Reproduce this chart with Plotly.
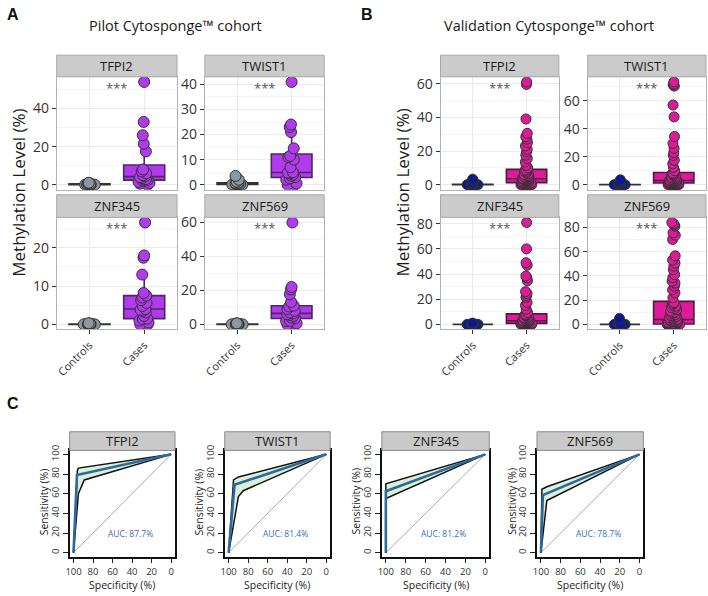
import numpy as np
import plotly.graph_objects as go

# ---------------- data ----------------
categories = ["Controls", "Cases"]
genes = ["TFPI2", "TWIST1", "ZNF345", "ZNF569"]

# Pilot cohort (methylation %)
pilot_controls_TFPI2 = [0, 0, 0, 0, 0, 0, 0, 0, 0.2, 0.3, 0.4, 0.5, 0.6, 0.8, 1.0]
pilot_cases_TFPI2 = [54, 33, 26, 21.5, 17.5, 8, 7, 6, 5, 4.5, 4, 3.5, 3, 2.7, 2.5, 2.2, 1.5, 1, 0.5, 0]
pilot_controls_TWIST1 = [0, 0, 0, 0.1, 0.2, 0.3, 0.3, 0.4, 0.5, 0.6, 0.8, 1.2, 2.0, 3.5]
pilot_cases_TWIST1 = [41, 24, 23, 21, 14.5, 11.5, 11, 10, 7, 4.8, 5, 4.5, 4, 3.5, 3, 2.5, 2, 0.5, 0, 0]
pilot_controls_ZNF345 = [0, 0, 0, 0, 0, 0, 0, 0, 0, 0, 0.1, 0.2, 0.2, 0.3]
pilot_cases_ZNF345 = [26.6, 18, 17.4, 13, 8.2, 7.5, 7, 6.3, 5.6, 4.8, 4, 3.8, 3.5, 3.1, 2.2, 1.5, 1.4, 1, 0.5, 0, 0]
pilot_controls_ZNF569 = [0, 0, 0, 0, 0, 0, 0, 0, 0, 0, 0.2, 0.3, 0.4, 0.5, 0.6]
pilot_cases_ZNF569 = [60, 22, 20.6, 17.7, 13.2, 11, 10.5, 9, 8, 7, 6.5, 6, 5.5, 5, 4, 3.5, 2.1, 2, 0.6, 0, 0]

# Validation cohort (methylation %)
val_controls_TFPI2 = [0, 0, 0, 0, 0, 0, 0, 0, 0, 0, 0, 0, 0.3, 0.5, 1.0, 2.5, 3.3]
val_cases_TFPI2 = [61, 59.5, 39, 30.5, 28.5, 27, 25, 23, 21, 19.5, 17.5, 15.5, 13.5, 11.5, 10,
                   8.8, 8.2, 7.6, 7, 6.5, 6, 5.6, 5.2, 4.8, 4.5, 4.2, 4, 3.8, 3.7, 3.6,
                   3.4, 3.2, 3, 2.8, 2.6, 2.4, 2.2, 2, 1.9, 1.8, 1.7, 1.6, 1.5, 1.4, 1.3,
                   1.1, 0.9, 0.7, 0.5, 0.3, 0.1, 0, 0, 0, 0, 0, 0, 0, 0, 0]
val_controls_TWIST1 = [0, 0, 0, 0, 0, 0, 0, 0, 0, 0, 0, 0, 0.5, 1.0, 2.0, 3.5]
val_cases_TWIST1 = [73.5, 72, 71.5, 70.5, 57, 48.5, 34.5, 29.5, 26, 23, 21, 17.5, 15, 12.5, 10,
                    8.3, 7.8, 7.2, 6.6, 6, 5.5, 5, 4.6, 4.2, 3.9, 3.6, 3.4, 3.3, 3.2, 3.1,
                    2.9, 2.7, 2.5, 2.3, 2.1, 2, 1.9, 1.8, 1.7, 1.6, 1.5, 1.45, 1.4, 1.35, 1.3,
                    1.1, 0.9, 0.7, 0.5, 0.3, 0.1, 0, 0, 0, 0, 0, 0, 0, 0, 0]
val_controls_ZNF345 = [0, 0, 0, 0, 0, 0, 0, 0, 0, 0, 0, 0, 0.3, 0.6, 1.0]
val_cases_ZNF345 = [81, 60, 49, 47, 38.5, 37, 34.5, 26, 24.5, 23, 21.5, 17.5, 15, 12, 9.5,
                    8, 7.5, 7, 6.5, 6, 5.5, 5, 4.6, 4.2, 4, 3.7, 3.4, 3.2, 3.05, 3,
                    2.8, 2.6, 2.4, 2.2, 2, 1.8, 1.6, 1.5, 1.4, 1.3, 1.2, 1.1, 1, 0.9, 0.85,
                    0.75, 0.6, 0.4, 0.2, 0.1, 0, 0, 0, 0, 0, 0, 0, 0, 0, 0]
val_controls_ZNF569 = [0, 0, 0, 0, 0, 0, 0, 0, 0, 0, 0, 0, 0.3, 4.8]
val_cases_ZNF569 = [84, 83, 82, 81, 75.5, 73.5, 70, 56.5, 53, 50.5, 48, 45, 41, 38.5, 35.5, 34, 31.5, 28.5, 26, 22,
                    18, 17, 16, 15, 14, 13, 12, 11, 10, 9.5, 9, 8, 7.5, 7, 6.5, 6, 5.5, 5, 4.6, 4.2,
                    3.8, 3.5, 3.2, 3, 2.8, 2.5, 2.2, 2, 1.8, 1.6, 1.4, 1.2, 1, 0.9, 0.8, 0.7, 0.6, 0.5, 0.45, 0.4,
                    0.3, 0.2, 0.1, 0, 0, 0, 0, 0, 0, 0, 0, 0, 0, 0, 0, 0, 0, 0, 0, 0]

# ROC curves (specificity %, sensitivity %)
roc_TFPI2_spec = [100, 96.5, 0]
roc_TFPI2_sens = [0, 79, 100]
roc_TFPI2_hi_spec = [100, 96, 95, 0]
roc_TFPI2_hi_sens = [0, 84, 86, 100]
roc_TFPI2_lo_spec = [100, 95, 89, 0]
roc_TFPI2_lo_sens = [0, 60, 74, 100]

roc_TWIST1_spec = [100, 94, 0]
roc_TWIST1_sens = [0, 69, 100]
roc_TWIST1_hi_spec = [100, 95, 90, 0]
roc_TWIST1_hi_sens = [0, 74, 77, 100]
roc_TWIST1_lo_spec = [100, 90, 85, 0]
roc_TWIST1_lo_sens = [0, 57, 63, 100]

roc_ZNF345_spec = [100, 100, 0]
roc_ZNF345_sens = [0, 62.5, 100]
roc_ZNF345_hi_spec = [100, 100, 0]
roc_ZNF345_hi_sens = [0, 70, 100]
roc_ZNF345_lo_spec = [100, 100, 0]
roc_ZNF345_lo_sens = [0, 55, 100]

roc_ZNF569_spec = [100, 98, 0]
roc_ZNF569_sens = [0, 58.5, 100]
roc_ZNF569_hi_spec = [100, 99, 94, 0]
roc_ZNF569_hi_sens = [0, 64.5, 67, 100]
roc_ZNF569_lo_spec = [100, 94, 0]
roc_ZNF569_lo_sens = [0, 53, 100]

auc_labels = ["AUC: 87.7%", "AUC: 81.4%", "AUC: 81.2%", "AUC: 78.7%"]
roc_ticks = [0, 20, 40, 60, 80, 100]

# ---------------- figure ----------------
W, H = 708, 596
FONT = "Open Sans"
BOLD = "Liberation Sans"


def fx(px):
    return px / W


def fy(py):
    return 1 - py / H


def box_stats(vals):
    a = np.asarray(vals, dtype=float)
    q1, med, q3 = np.percentile(a, [25, 50, 75])
    iqr = q3 - q1
    lo_lim, hi_lim = q1 - 1.5 * iqr, q3 + 1.5 * iqr
    inside = a[(a >= lo_lim) & (a <= hi_lim)]
    out = a[(a < lo_lim) | (a > hi_lim)]
    return q1, med, q3, inside.min(), inside.max(), out.tolist()


INVISIBLE_BOX = dict(fillcolor="rgba(0,0,0,0)", line=dict(color="rgba(0,0,0,0)", width=0))

fig = go.Figure()
layout = dict(width=W, height=H, autosize=False, margin=dict(l=0, r=0, t=0, b=0),
              paper_bgcolor="white", plot_bgcolor="white", showlegend=False,
              boxmode="overlay", font=dict(family=FONT, color="#222"))
shapes = []
annotations = []
ax_count = [0]


def new_axes():
    ax_count[0] += 1
    i = ax_count[0]
    s = "" if i == 1 else str(i)
    return "x" + s, "y" + s, "xaxis" + s, "yaxis" + s


def strip(x0, x1, y0, y1, text, fill, border, size):
    shapes.append(dict(type="rect", xref="paper", yref="paper", x0=fx(x0), x1=fx(x1),
                       y0=fy(y1), y1=fy(y0), fillcolor=fill, line=dict(color=border, width=1), layer="above"))
    annotations.append(dict(xref="paper", yref="paper", x=fx((x0 + x1) / 2), y=fy((y0 + y1) / 2),
                            text=text, showarrow=False, xanchor="center", yanchor="middle",
                            font=dict(size=size, color="#1a1a1a", family=FONT)))


pilot = dict(ctrl=[pilot_controls_TFPI2, pilot_controls_TWIST1, pilot_controls_ZNF345, pilot_controls_ZNF569],
             case=[pilot_cases_TFPI2, pilot_cases_TWIST1, pilot_cases_ZNF345, pilot_cases_ZNF569],
             ctrl_col="#8E979E", case_col="#B23AEE", ctrl_line="#333333", case_line="#4a2a5c",
             xs=[(53, 174), (202, 322), (53, 174), (202, 322)],
             dt=[20, 10, 10, 20], size=11)
valid = dict(ctrl=[val_controls_TFPI2, val_controls_TWIST1, val_controls_ZNF345, val_controls_ZNF569],
             case=[val_cases_TFPI2, val_cases_TWIST1, val_cases_ZNF345, val_cases_ZNF569],
             ctrl_col="#0B1A8C", case_col="#DE1A9B", ctrl_line="#333333", case_line="#4d1a3c",
             xs=[(439, 558), (587, 706), (439, 558), (587, 706)],
             dt=[20, 20, 20, 20], size=10)
rows = [(50, 72, 187, False), (50, 72, 187, False), (192, 215, 329, True), (192, 215, 329, True)]

for coh in (pilot, valid):
    for k, gene in enumerate(genes):
        xa, ya, xk, yk = new_axes()
        ctrl, case = coh["ctrl"][k], coh["case"][k]
        x0, x1 = coh["xs"][k]
        st, pt, pb, bottom = rows[k]
        allv = ctrl + case
        lo, hi = min(allv), max(allv)
        pad = 0.05 * (hi - lo)
        dt = coh["dt"][k]
        groups = (("Controls", ctrl, coh["ctrl_col"], coh["ctrl_line"]),
                  ("Cases", case, coh["case_col"], coh["case_line"]))
        # boxes (ggplot geom_boxplot), whiskers without caps
        for cat, vals, col, lc in groups:
            q1, med, q3, lf, uf, out = box_stats(vals)
            fig.add_trace(go.Box(x=[cat], q1=[q1], median=[med], q3=[q3], lowerfence=[lf], upperfence=[uf],
                                 xaxis=xa, yaxis=ya, boxpoints=False,
                                 fillcolor=col, line=dict(color=lc, width=1.6),
                                 width=0.75, whiskerwidth=0, hoverinfo="skip"))
            if out:
                fig.add_trace(go.Box(x=[cat] * len(out), y=out, xaxis=xa, yaxis=ya,
                                     boxpoints="all", jitter=0, pointpos=0,
                                     marker=dict(color="#111", size=5), width=0.75,
                                     hoverinfo="skip", **INVISIBLE_BOX))
        # jittered sample points on top
        for cat, vals, col, lc in groups:
            fig.add_trace(go.Box(x=[cat] * len(vals), y=vals, xaxis=xa, yaxis=ya,
                                 boxpoints="all", jitter=0.33, pointpos=0,
                                 marker=dict(color=col, size=coh["size"], line=dict(color="#333", width=1)),
                                 width=0.75, hoverinfo="skip", **INVISIBLE_BOX))
        layout[xk] = dict(domain=[fx(x0), fx(x1)], anchor=ya, type="category",
                          categoryorder="array", categoryarray=categories, range=[-0.6, 1.6],
                          showgrid=True, gridcolor="#ebebeb", zeroline=False,
                          showline=True, mirror=True, linecolor="#b3b3b3", linewidth=1,
                          ticks="outside" if bottom else "", ticklen=4, tickcolor="#333",
                          showticklabels=bottom, tickangle=-45,
                          tickfont=dict(size=11, color="#333", family=FONT))
        layout[yk] = dict(domain=[fy(pb), fy(pt)], anchor=xa, range=[lo - pad, hi + pad],
                          tick0=0, dtick=dt, ticks="outside", ticklen=4, tickcolor="#333",
                          tickfont=dict(size=14, color="#333", family=FONT),
                          showgrid=True, gridcolor="#ebebeb", zeroline=False,
                          minor=dict(dtick=dt / 2, showgrid=True, gridcolor="#f4f4f4", gridwidth=0.6),
                          showline=True, mirror=True, linecolor="#b3b3b3", linewidth=1)
        strip(x0, x1, st, pt, gene, "#cbcbcb", "#a8a8a8", 13)
        annotations.append(dict(xref=xa, yref=ya, x=0.5, y=max(case), text="***", showarrow=False,
                                xanchor="center", yanchor="middle", yshift=-6,
                                font=dict(size=13, color="#555", family=FONT)))

# ROC panels
roc_sets = [
    (roc_TFPI2_spec, roc_TFPI2_sens, roc_TFPI2_hi_spec, roc_TFPI2_hi_sens, roc_TFPI2_lo_spec, roc_TFPI2_lo_sens),
    (roc_TWIST1_spec, roc_TWIST1_sens, roc_TWIST1_hi_spec, roc_TWIST1_hi_sens, roc_TWIST1_lo_spec, roc_TWIST1_lo_sens),
    (roc_ZNF345_spec, roc_ZNF345_sens, roc_ZNF345_hi_spec, roc_ZNF345_hi_sens, roc_ZNF345_lo_spec, roc_ZNF345_lo_sens),
    (roc_ZNF569_spec, roc_ZNF569_sens, roc_ZNF569_hi_spec, roc_ZNF569_hi_sens, roc_ZNF569_lo_spec, roc_ZNF569_lo_sens),
]
roc_x = [(66, 172), (222, 328), (380, 488), (536, 643)]
rt, rb, rs = 452, 560, 433
for k, gene in enumerate(genes):
    xa, ya, xk, yk = new_axes()
    sp, se, hsp, hse, lsp, lse = roc_sets[k]
    x0, x1 = roc_x[k]
    fig.add_trace(go.Scatter(x=[100, 0], y=[0, 100], mode="lines", xaxis=xa, yaxis=ya,
                             line=dict(color="#a9a9a9", width=1), hoverinfo="skip"))
    fig.add_trace(go.Scatter(x=hsp + lsp[::-1], y=hse + lse[::-1], mode="lines", fill="toself",
                             fillcolor="#dcefd8", line=dict(width=0), xaxis=xa, yaxis=ya, hoverinfo="skip"))
    for a, b in ((hsp, hse), (lsp, lse)):
        fig.add_trace(go.Scatter(x=a, y=b, mode="lines", xaxis=xa, yaxis=ya,
                                 line=dict(color="#111", width=1.5), hoverinfo="skip"))
    fig.add_trace(go.Scatter(x=sp, y=se, mode="lines", xaxis=xa, yaxis=ya,
                             line=dict(color="#2d6a9c", width=2.6), hoverinfo="skip"))
    layout[xk] = dict(domain=[fx(x0), fx(x1)], anchor=ya, range=[104, -4], tickvals=roc_ticks,
                      ticks="outside", ticklen=5, tickcolor="#222", tickwidth=1,
                      tickfont=dict(size=9.5, color="#333", family=FONT),
                      showgrid=False, zeroline=False, showline=True, mirror=True,
                      linecolor="#111", linewidth=1.6)
    layout[yk] = dict(domain=[fy(rb), fy(rt)], anchor=xa, range=[-4, 104], tickvals=roc_ticks,
                      ticks="outside", ticklen=5, tickcolor="#222", tickwidth=1, tickangle=-90,
                      tickfont=dict(size=9.5, color="#333", family=FONT),
                      showgrid=False, zeroline=False, showline=True, mirror=True,
                      linecolor="#111", linewidth=1.6)
    strip(x0, x1, rs, rt, gene, "#c9c9c9", "#8c8c8c", 13)
    annotations.append(dict(xref=xa, yref=ya, x=42, y=20, text=auc_labels[k], showarrow=False,
                            xanchor="center", yanchor="middle",
                            font=dict(size=8.5, color="#3a6fb0", family=FONT)))
    annotations.append(dict(xref="paper", yref="paper", x=fx((x0 + x1) / 2), y=fy(589),
                            text="Specificity (%)", showarrow=False, xanchor="center", yanchor="middle",
                            font=dict(size=10.5, color="#222", family=FONT)))
    annotations.append(dict(xref="paper", yref="paper", x=fx(x0 - 26), y=fy(504),
                            text="Sensitivity (%)", showarrow=False, textangle=-90,
                            xanchor="center", yanchor="middle",
                            font=dict(size=10.5, color="#222", family=FONT)))

# titles and panel letters
for txt, px, py in (("Pilot Cytosponge™ cohort", 172, 20), ("Validation Cytosponge™ cohort", 548, 20)):
    annotations.append(dict(xref="paper", yref="paper", x=fx(px), y=fy(py), text=txt, showarrow=False,
                            xanchor="center", yanchor="middle", font=dict(size=14.5, color="#1a1a1a", family=FONT)))
for txt, px in (("Methylation Level (%)", 15), ("Methylation Level (%)", 401)):
    annotations.append(dict(xref="paper", yref="paper", x=fx(px), y=fy(190), text=txt, showarrow=False,
                            textangle=-90, xanchor="center", yanchor="middle",
                            font=dict(size=17, color="#1a1a1a", family=FONT)))
for txt, px, py in (("<b>A</b>", 9, 9), ("<b>B</b>", 365, 9), ("<b>C</b>", 9, 404)):
    annotations.append(dict(xref="paper", yref="paper", x=fx(px), y=fy(py), text=txt, showarrow=False,
                            xanchor="center", yanchor="middle", font=dict(size=16, color="#111", family=BOLD)))

layout["shapes"] = shapes
layout["annotations"] = annotations
fig.update_layout(**layout)
fig.write_html("out.html", config={"displayModeBar": False},
               post_script="document.body.style.margin='0';")
